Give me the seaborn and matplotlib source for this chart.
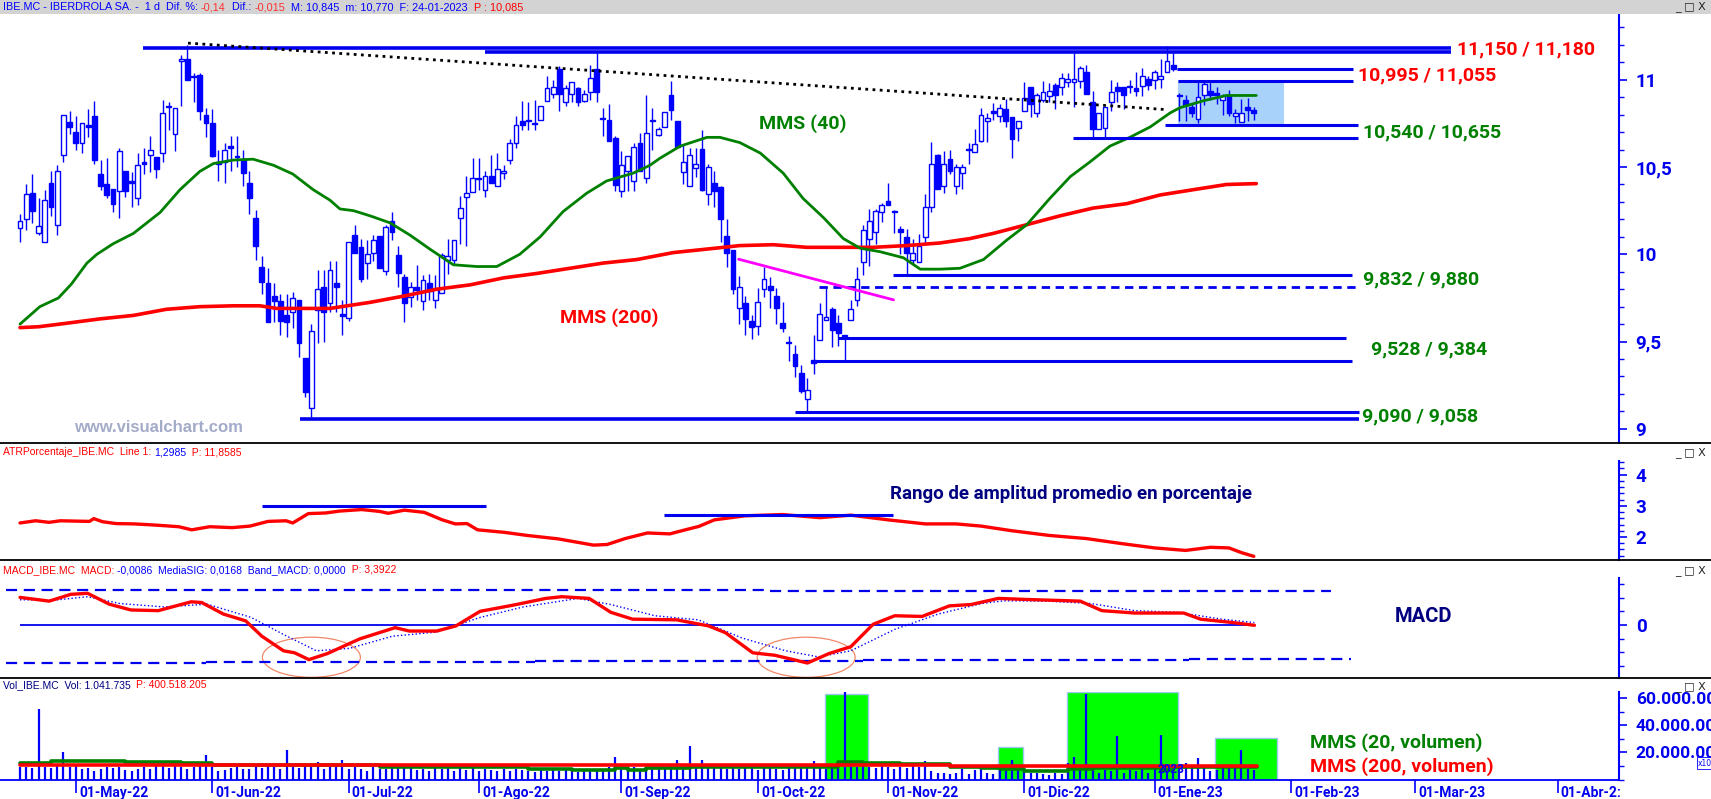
import matplotlib
matplotlib.use("Agg")
import numpy as np
import pandas as pd
import matplotlib.pyplot as plt
from matplotlib.patches import Rectangle, Ellipse
from matplotlib.ticker import MultipleLocator, FixedLocator, FuncFormatter
import seaborn as sns

# ---------------- data (IBE.MC, daily, 19-04-2022 .. 24-01-2023) ----------------
opens = [
    10.15, 10.20, 10.35, 10.12, 10.07, 10.41, 10.17, 10.57, 10.76, 10.70,
    10.64, 10.74, 10.79, 10.46, 10.40, 10.375, 10.36, 10.48, 10.42, 10.32,
    10.53, 10.57, 10.56, 10.58, 10.85, 10.69, 11.105, 11.12, 11.02, 11.03,
    10.80, 10.75, 10.53, 10.53, 10.62, 10.565, 10.545, 10.41, 10.21, 9.93,
    9.835, 9.76, 9.73, 9.65, 9.67, 9.74, 9.405, 9.12, 9.68, 9.81,
    9.72, 9.835, 9.66, 9.635, 10.11, 10.04, 9.95, 10.01, 10.105, 9.905,
    10.19, 9.995, 9.87, 9.755, 9.81, 9.73, 9.835, 9.74, 9.78, 9.97,
    9.965, 10.21, 10.33, 10.355, 10.43, 10.37, 10.45, 10.39, 10.465, 10.54,
    10.64, 10.765, 10.765, 10.75, 10.77, 10.88, 10.92, 11.06, 10.87, 10.92,
    10.95, 10.88, 10.93, 11.06, 10.78, 10.77, 10.665, 10.36, 10.48, 10.42,
    10.64, 10.44, 10.765, 10.685, 10.73, 10.91, 10.765, 10.47, 10.39, 10.495,
    10.605, 10.345, 10.41, 10.385, 10.105, 10.025, 9.695, 9.72, 9.62, 9.59,
    9.80, 9.82, 9.76, 9.605, 9.50, 9.43, 9.32, 9.17, 9.395, 9.51,
    9.625, 9.685, 9.605, 9.535, 9.625, 9.74, 9.955, 10.09, 10.125, 10.24,
    10.305, 10.25, 10.145, 10.10, 9.97, 9.955, 10.10, 10.27, 10.57, 10.39,
    10.545, 10.39, 10.465, 10.605, 10.585, 10.65, 10.765, 10.82, 10.79, 10.83,
    10.785, 10.725, 10.82, 10.96, 10.81, 10.885, 10.905, 10.97, 10.96, 10.985,
    10.99, 10.995, 11.045, 10.875, 10.72, 10.725, 10.87, 10.96, 10.96, 10.965,
    10.95, 10.965, 11.005, 11.0, 11.005, 11.045, 11.085, 10.915, 10.885, 10.845,
    10.775, 10.91, 10.935, 10.925, 10.885, 10.905, 10.795, 10.76, 10.845, 10.825,
]
highs = [
    10.23, 10.40, 10.46, 10.32, 10.37, 10.48, 10.51, 10.80, 10.82, 10.79,
    10.75, 10.83, 10.88, 10.54, 10.55, 10.375, 10.61, 10.48, 10.47, 10.58,
    10.61, 10.68, 10.56, 10.885, 10.875, 10.84, 11.14, 11.20, 11.04, 11.04,
    10.84, 10.83, 10.60, 10.64, 10.68, 10.68, 10.60, 10.475, 10.255, 9.99,
    9.92, 9.835, 9.77, 9.77, 9.785, 9.74, 9.405, 9.60, 9.91, 9.91,
    9.96, 9.96, 9.74, 10.07, 10.17, 10.09, 10.08, 10.11, 10.105, 10.17,
    10.24, 10.05, 9.89, 9.84, 9.94, 9.88, 9.89, 9.88, 10.01, 10.09,
    10.08, 10.335, 10.45, 10.55, 10.55, 10.48, 10.57, 10.58, 10.51, 10.66,
    10.79, 10.88, 10.87, 10.885, 10.85, 11.02, 11.0, 11.08, 10.97, 10.985,
    10.96, 10.94, 11.085, 11.155, 10.84, 10.86, 10.68, 10.59, 10.565, 10.64,
    10.695, 10.91, 10.84, 10.73, 10.815, 10.995, 10.765, 10.63, 10.61, 10.61,
    10.71, 10.515, 10.48, 10.39, 10.20, 10.025, 9.875, 9.76, 9.655, 9.805,
    9.93, 9.87, 9.805, 9.725, 9.53, 9.48, 9.365, 9.29, 9.54, 9.72,
    9.805, 9.70, 9.655, 9.535, 9.74, 9.925, 10.17, 10.26, 10.26, 10.295,
    10.41, 10.255, 10.16, 10.145, 10.085, 10.115, 10.345, 10.645, 10.575, 10.59,
    10.60, 10.52, 10.52, 10.64, 10.72, 10.84, 10.81, 10.865, 10.86, 10.89,
    10.785, 10.765, 10.99, 10.96, 10.925, 10.995, 10.98, 10.98, 11.04, 11.04,
    11.155, 11.08, 11.085, 10.935, 10.81, 10.845, 11.0, 10.99, 10.96, 11.0,
    11.045, 11.07, 11.02, 11.055, 11.12, 11.195, 11.155, 10.925, 10.91, 10.86,
    10.99, 10.99, 10.99, 10.96, 10.92, 10.94, 10.83, 10.89, 10.895, 10.845,
]
lows = [
    10.07, 10.14, 10.18, 10.11, 10.07, 10.22, 10.11, 10.53, 10.69, 10.60,
    10.58, 10.67, 10.52, 10.37, 10.32, 10.245, 10.21, 10.33, 10.27, 10.28,
    10.46, 10.47, 10.44, 10.53, 10.71, 10.59, 10.85, 11.0, 10.87, 10.77,
    10.67, 10.56, 10.42, 10.41, 10.48, 10.50, 10.39, 10.23, 9.97, 9.77,
    9.61, 9.61, 9.535, 9.525, 9.58, 9.41, 9.18, 9.07, 9.49, 9.50,
    9.67, 9.67, 9.54, 9.62, 10.01, 9.84, 9.86, 9.96, 9.92, 9.88,
    10.08, 9.81, 9.61, 9.70, 9.74, 9.68, 9.74, 9.69, 9.78, 9.89,
    9.945, 10.06, 10.045, 10.355, 10.37, 10.33, 10.41, 10.39, 10.43, 10.52,
    10.61, 10.71, 10.71, 10.71, 10.77, 10.88, 10.895, 10.82, 10.85, 10.87,
    10.85, 10.87, 10.885, 10.875, 10.68, 10.65, 10.36, 10.33, 10.365, 10.365,
    10.48, 10.41, 10.60, 10.675, 10.73, 10.77, 10.615, 10.40, 10.39, 10.445,
    10.365, 10.28, 10.27, 10.07, 9.93, 9.77, 9.60, 9.54, 9.515, 9.54,
    9.755, 9.69, 9.60, 9.555, 9.39, 9.295, 9.205, 9.105, 9.315, 9.51,
    9.625, 9.47, 9.475, 9.395, 9.625, 9.705, 9.88, 9.935, 10.06, 10.185,
    10.28, 10.12, 10.0, 9.88, 9.945, 9.955, 10.065, 10.245, 10.375, 10.35,
    10.46, 10.345, 10.375, 10.52, 10.585, 10.645, 10.645, 10.77, 10.76, 10.73,
    10.55, 10.65, 10.82, 10.785, 10.785, 10.87, 10.875, 10.835, 10.91, 10.96,
    10.845, 10.95, 10.92, 10.665, 10.72, 10.665, 10.82, 10.875, 10.83, 10.925,
    10.905, 10.905, 10.94, 10.945, 10.95, 11.045, 11.05, 10.765, 10.765, 10.785,
    10.75, 10.855, 10.885, 10.86, 10.80, 10.79, 10.755, 10.76, 10.765, 10.77,
]
closes = [
    10.19, 10.345, 10.25, 10.165, 10.31, 10.27, 10.48, 10.80, 10.73, 10.64,
    10.75, 10.73, 10.54, 10.39, 10.34, 10.29, 10.59, 10.36, 10.41, 10.51,
    10.515, 10.60, 10.49, 10.81, 10.845, 10.84, 11.12, 11.0, 11.015, 10.82,
    10.755, 10.565, 10.52, 10.60, 10.61, 10.56, 10.465, 10.32, 10.045, 9.84,
    9.615, 9.73, 9.62, 9.61, 9.75, 9.49, 9.21, 9.56, 9.80, 9.67,
    9.91, 9.815, 9.645, 10.07, 10.01, 9.86, 10.0, 10.08, 9.92, 10.155,
    10.13, 9.895, 9.72, 9.81, 9.795, 9.85, 9.79, 9.80, 9.995, 9.99,
    10.08, 10.265, 10.35, 10.44, 10.435, 10.45, 10.41, 10.49, 10.48, 10.64,
    10.74, 10.74, 10.77, 10.745, 10.85, 10.95, 10.96, 10.92, 10.95, 10.985,
    10.875, 10.92, 11.01, 10.93, 10.775, 10.65, 10.395, 10.51, 10.565, 10.615,
    10.48, 10.695, 10.77, 10.72, 10.815, 10.825, 10.615, 10.53, 10.57, 10.52,
    10.37, 10.50, 10.365, 10.20, 10.01, 9.80, 9.81, 9.63, 9.585, 9.725,
    9.86, 9.795, 9.69, 9.575, 9.49, 9.36, 9.215, 9.225, 9.38, 9.66,
    9.64, 9.565, 9.55, 9.53, 9.685, 9.86, 10.14, 10.19, 10.25, 10.285,
    10.28, 10.24, 10.13, 10.01, 10.005, 10.05, 10.27, 10.52, 10.375, 10.52,
    10.48, 10.50, 10.50, 10.60, 10.63, 10.80, 10.78, 10.81, 10.84, 10.765,
    10.66, 10.765, 10.895, 10.86, 10.91, 10.93, 10.935, 10.91, 11.01, 11.005,
    11.005, 11.07, 10.92, 10.72, 10.81, 10.845, 10.93, 10.935, 10.91, 10.96,
    10.935, 11.02, 10.97, 11.045, 11.02, 11.11, 11.06, 10.905, 10.855, 10.81,
    10.90, 10.975, 10.91, 10.91, 10.905, 10.81, 10.81, 10.81, 10.825, 10.81,
]
# daily volume, millions of shares
volumes = [
    9.5, 9.0, 8.5, 52.0, 9.5, 8.8, 10.0, 20.7, 9.2, 10.0,
    7.5, 8.5, 6.5, 8.0, 9.5, 8.2, 9.0, 7.0, 6.0, 8.0,
    9.0, 7.5, 11.0, 13.6, 8.5, 12.0, 9.0, 8.0, 9.5, 10.5,
    18.5, 9.0, 6.5, 7.0, 8.5, 9.0, 7.5, 8.0, 9.5, 8.5,
    10.0, 9.0, 8.0, 21.5, 9.0, 8.5, 10.0, 9.5, 12.8, 8.0,
    9.0, 10.0, 14.6, 7.5, 9.0, 8.0, 6.5, 9.5, 8.0, 7.5,
    9.0, 10.5, 8.5, 11.0, 7.0, 8.0, 6.5, 9.0, 7.5, 8.5,
    6.0, 8.5, 7.0, 9.5, 6.5, 8.0, 7.0, 6.0, 7.5, 6.5,
    8.0, 7.0, 6.5, 5.5, 7.0, 6.0, 8.0, 6.5, 7.5, 6.0,
    5.5, 7.0, 6.5, 8.0, 7.5, 9.0, 17.0, 8.5, 7.0, 9.5,
    8.0, 7.0, 8.5, 9.0, 7.5, 10.0, 14.6, 9.0, 25.0, 9.5,
    14.6, 9.0, 8.5, 10.0, 8.0, 9.5, 7.5, 8.5, 9.0, 7.0,
    8.5, 9.5, 8.0, 7.0, 8.5, 9.0, 9.5, 10.5, 13.6, 9.0,
    8.0, 9.5, 10.0, 65.0, 10.0, 9.0, 11.0, 9.5, 8.5, 10.0,
    9.0, 8.0, 9.5, 8.5, 10.0, 9.0, 14.0, 6.0, 4.5, 5.0,
    4.0, 4.5, 7.5, 4.0, 7.0, 9.0, 5.0, 4.0, 10.0, 6.0,
    14.6, 8.0, 6.0, 4.5, 5.0, 4.0, 3.5, 5.0, 4.0, 12.0,
    17.0, 9.0, 63.0, 10.0, 5.0, 7.0, 6.0, 32.0, 5.0, 7.0,
    6.0, 8.0, 5.0, 9.0, 33.0, 8.0, 9.0, 10.0, 12.0, 9.0,
    16.0, 10.0, 6.0, 7.0, 9.0, 10.0, 9.0, 22.0, 8.0, 7.0,
]

# moving averages on price (x = trading-day index)
mms40_x = [0, 3.2, 6.2, 8.3, 10.8, 12.4, 15, 18.3, 22.6, 25.8, 29, 31.2, 34.4, 37.6, 40.9, 44, 47.3, 50,
           51.6, 53.8, 56.5, 59.7, 62.9, 66.1, 69.9, 73.7, 76.9, 80.6, 83.9, 87.6, 91.4, 94.6, 98.9, 101.6,
           103.2, 106.5, 110.8, 112.9, 116.1, 119.4, 123.1, 126.3, 129.6, 132.8, 135.5, 138.7, 142.5, 145.2,
           148.4, 151.6, 155.4, 159.1, 162.4, 166.1, 169.4, 172.6, 175.8, 179, 182.3, 185.5, 187.1, 190.9,
           194.6, 199.4]
mms40_y = [9.60, 9.70, 9.75, 9.83, 9.95, 10.0, 10.06, 10.12, 10.24, 10.37, 10.475, 10.52, 10.54, 10.545,
           10.51, 10.46, 10.37, 10.31, 10.26, 10.25, 10.22, 10.18, 10.11, 10.03, 9.94, 9.93, 9.93, 10.0,
           10.10, 10.245, 10.35, 10.42, 10.465, 10.51, 10.55, 10.62, 10.67, 10.67, 10.64, 10.58, 10.465,
           10.32, 10.21, 10.09, 10.035, 10.015, 9.98, 9.915, 9.915, 9.92, 9.97, 10.08, 10.17, 10.32,
           10.445, 10.53, 10.62, 10.67, 10.73, 10.81, 10.84, 10.88, 10.91, 10.91]
mms200_x = [0, 3, 7.5, 12.9, 18.3, 23.6, 29, 34.4, 38.7, 41.4, 50, 56.5, 61.8, 67.2, 72.6, 78, 83.3,
            88.7, 94.1, 99.5, 105.4, 110.8, 116.1, 121.5, 126.9, 132.3, 137.6, 143, 148.4, 153.2, 157,
            162.4, 167.7, 173.1, 178.5, 183.9, 189.2, 194.6, 199.4]
mms200_y = [9.58, 9.585, 9.605, 9.63, 9.65, 9.685, 9.70, 9.705, 9.705, 9.69, 9.69, 9.725, 9.76, 9.80,
            9.825, 9.865, 9.89, 9.92, 9.95, 9.97, 10.01, 10.03, 10.05, 10.055, 10.04, 10.04, 10.04,
            10.05, 10.065, 10.09, 10.12, 10.17, 10.22, 10.265, 10.29, 10.34, 10.37, 10.40, 10.405]

# support / resistance levels drawn on the price panel
level_y = [11.18, 11.16, 11.06, 10.995, 10.74, 10.665, 9.883, 9.523, 9.39, 9.099, 9.055]
level_x0 = [19.8, 75, 186.6, 186.8, 184.7, 169.9, 140.8, 132, 127.7, 125, 45.2]
level_x1 = [230.8, 230.8, 215, 215, 215.8, 215.8, 214.8, 213.9, 214.8, 215.9, 216]
level_dashed = (128.9, 215.5, 9.81)
trend_x = [27.1, 184.5]
trend_y = [11.21, 10.83]
magenta_x = [115.9, 140.9]
magenta_y = [9.972, 9.739]
box_x = (186.8, 203.9)
box_y = (10.748, 10.996)

# ATR in percent
atr_x = [0, 2.5, 4.7, 6.5, 11.2, 11.9, 13.3, 15.5, 18.4, 22, 25.6, 27.7, 30.6, 34.2, 37.1, 40, 42.9, 44,
         46.5, 49.3, 51.5, 55.1, 58, 59.4, 62, 65.2, 68.1, 70.2, 72.1, 73.8, 78.1, 81.8, 86.8, 92.5, 94.7,
         97.6, 101.2, 104.8, 107.7, 109.5, 112, 117, 123, 129, 134, 140, 146, 151, 155, 160, 166, 172,
         178, 183, 188, 192, 195, 197, 199]
atr_y = [2.45, 2.52, 2.47, 2.52, 2.50, 2.59, 2.49, 2.43, 2.42, 2.38, 2.33, 2.23, 2.33, 2.30, 2.35, 2.50,
         2.52, 2.45, 2.75, 2.77, 2.83, 2.88, 2.82, 2.76, 2.86, 2.79, 2.55, 2.42, 2.43, 2.23, 2.15, 2.05,
         1.94, 1.74, 1.76, 1.95, 2.13, 2.10, 2.25, 2.34, 2.55, 2.68, 2.72, 2.62, 2.70, 2.55, 2.42, 2.42,
         2.35, 2.20, 2.05, 1.95, 1.78, 1.65, 1.57, 1.67, 1.65, 1.50, 1.38]
atr_seg = [(39.1, 75.1, 3.0), (103.8, 140.8, 2.72)]

# MACD and signal
macd_x = [0, 4.7, 8.2, 10.9, 14.4, 17.9, 22.3, 27.6, 29.3, 32.8, 36.4, 39, 42.5, 44.3, 46.6, 49.6, 54.8,
          60.5, 62.8, 67.2, 70.3, 74.2, 79.5, 84.8, 87.4, 91.8, 95.3, 98.8, 105.9, 111.1, 113.8, 118.2,
          121.7, 125.2, 127, 130.5, 134, 137.6, 141.1, 145.5, 149.9, 153.4, 157.8, 162.2, 171, 174.5,
          179.8, 187.7, 190.4, 195.6, 199.1]
macd_y = [0.081, 0.070, 0.090, 0.093, 0.061, 0.044, 0.042, 0.068, 0.066, 0.032, 0.012, -0.033, -0.076,
          -0.082, -0.102, -0.084, -0.041, -0.008, -0.018, -0.018, -0.003, 0.040, 0.058, 0.078, 0.083,
          0.078, 0.037, 0.017, 0.015, -0.003, -0.023, -0.082, -0.089, -0.104, -0.112, -0.084, -0.064,
          0.002, 0.027, 0.025, 0.056, 0.060, 0.078, 0.075, 0.070, 0.042, 0.035, 0.035, 0.017, 0.007,
          -0.001]
sig_x = [0, 5.6, 10.9, 16.1, 23.2, 30.2, 37.3, 42.5, 47.8, 53.1, 60.1, 67.2, 74.2, 81.2, 90, 95.3, 102.4,
         109.4, 116.4, 123.5, 128.8, 134, 141.1, 148.1, 155.1, 158.7, 165.7, 172.7, 179.8, 186.8, 193.8,
         199.1]
sig_y = [0.074, 0.073, 0.083, 0.063, 0.053, 0.061, 0.022, -0.028, -0.076, -0.069, -0.033, -0.021, 0.022,
         0.053, 0.078, 0.060, 0.027, 0.015, -0.038, -0.076, -0.094, -0.076, -0.013, 0.032, 0.063, 0.071,
         0.070, 0.063, 0.042, 0.037, 0.017, 0.007]
band_up = [(-2.3, 121, 0.103), (121, 211.5, 0.100)]
band_dn = [(-2.3, 30, -0.111), (30, 83, -0.109), (83, 136, -0.106), (136, 188.6, -0.103), (188.6, 214.7, -0.100)]
circles = [(47, -0.095), (126.8, -0.095)]

# volume moving averages (step lines) and highlighted zones
vol20_x = [0, 5, 17, 26, 31, 52, 58, 61, 82, 89, 96, 98, 101, 108, 112, 132, 136, 142, 150, 155, 158, 162,
           169, 173, 184, 186, 199.5]
vol20_y = [12.3, 14.0, 12.8, 12.1, 10.5, 10.4, 9.6, 9.1, 7.9, 7.4, 8.4, 7.4, 8.4, 9.6, 9.1, 12.8, 12.1,
           11.5, 9.0, 8.3, 7.5, 6.5, 7.8, 8.3, 7.0, 9.0, 9.0]
vol200_x = [0, 65, 150, 199.5]
vol200_y = [10.9, 10.4, 10.0, 10.0]
vzone_x0 = [129.9, 157.7, 168.8, 192.8]
vzone_x1 = [136.8, 161.8, 186.8, 202.8]
vzone_top = [63.0, 24.3, 64.8, 30.5]

month_labels = ['01-May-22', '01-Jun-22', '01-Jul-22', '01-Ago-22', '01-Sep-22', '01-Oct-22',
                '01-Nov-22', '01-Dic-22', '01-Ene-23', '01-Feb-23', '01-Mar-23', '01-Abr-2:']

# trading calendar -> tick positions
days = pd.bdate_range('2022-04-19', '2023-04-28')
days = days.drop(pd.to_datetime(['2022-12-26', '2023-04-07', '2023-04-10']))
month_key = days.to_period('M')
first_idx = [int(np.argmax(month_key == p)) for p in pd.period_range('2022-05', '2023-04', freq='M')]

# ---------------- drawing ----------------
sns.set_style("white")
plt.rcParams['font.family'] = ['DejaVu Sans']
BOLDF = ['Roboto', 'DejaVu Sans']
SMALL = ['Liberation Sans', 'DejaVu Sans']
BLUE = '#0000ff'
LBLUE = '#0000ee'
GREEN = '#008000'
RED = '#ff0000'
NAVY = '#000080'

W, H = 1711, 799
XR = 1619
fig = plt.figure(figsize=(W / 100, H / 100), dpi=100)
fig.patch.set_facecolor('white')


def px(x, y):
    return x / W, 1 - y / H


def panel(top, bottom):
    ax = fig.add_axes([0, 1 - bottom / H, XR / W, (bottom - top) / H])
    ax.set_xlim(-20 / 6.2, (XR - 20) / 6.2)
    for s in ['left', 'top', 'bottom']:
        ax.spines[s].set_visible(False)
    ax.spines['right'].set_color(BLUE)
    ax.spines['right'].set_linewidth(1.5)
    ax.yaxis.tick_right()
    ax.tick_params(axis='x', bottom=False, labelbottom=False)
    ax.tick_params(axis='y', which='both', direction='out', colors=BLUE, labelcolor=LBLUE,
                   labelsize=13.5, pad=6)
    ax.tick_params(axis='y', which='major', length=6, width=1.2)
    ax.tick_params(axis='y', which='minor', length=3.5, width=1)
    return ax


def bold_labels(ax):
    for t in ax.get_yticklabels():
        t.set_fontweight('bold')
        t.set_family(BOLDF)


comma = FuncFormatter(lambda v, p: ('%g' % v).replace('.', ','))

# ---- price panel
ax = panel(15, 443)
ax.set_ylim(8.919, 11.371)
idx = np.arange(len(closes))
o = np.array(opens); c = np.array(closes)
ax.vlines(idx, lows, highs, color=BLUE, lw=1, zorder=3)
body_lo = np.minimum(o, c)
body_h = np.maximum(np.abs(c - o), 0.006)
face = ['white' if cc >= oo else BLUE for oo, cc in zip(o, c)]
ax.bar(idx, body_h, bottom=body_lo, width=0.75, color=face, edgecolor=BLUE, linewidth=1, zorder=4)
ax.add_patch(Rectangle((box_x[0], box_y[0]), box_x[1] - box_x[0], box_y[1] - box_y[0],
                       facecolor='#a9d2fb', edgecolor='none', zorder=1))
sns.lineplot(x=mms200_x, y=mms200_y, ax=ax, color=RED, lw=2.6, zorder=5)
sns.lineplot(x=mms40_x, y=mms40_y, ax=ax, color=GREEN, lw=2, zorder=5)
for x0, x1, yv in zip(level_x0, level_x1, level_y):
    ax.hlines(yv, x0, x1, color=LBLUE, lw=2.6 if yv > 11.1 or yv < 9.06 else 2.2, zorder=6)
ax.hlines(level_dashed[2], level_dashed[0], level_dashed[1], color=LBLUE, lw=2, linestyles=(0, (3, 2)), zorder=6)
ax.plot(trend_x, trend_y, color='black', lw=2, linestyle=(0, (1, 1.6)), zorder=6)
ax.plot(magenta_x, magenta_y, color='#ff00ff', lw=2, zorder=6)
ax.yaxis.set_major_locator(FixedLocator([9, 9.5, 10, 10.5, 11]))
ax.yaxis.set_minor_locator(MultipleLocator(0.1))
ax.yaxis.set_major_formatter(comma)
bold_labels(ax)

# ---- ATR panel
ax2 = panel(461, 560)
ax2.set_ylim(1.263, 4.436)
sns.lineplot(x=atr_x, y=atr_y, ax=ax2, color=RED, lw=2.4)
for x0, x1, yv in atr_seg:
    ax2.hlines(yv, x0, x1, color=LBLUE, lw=2.2)
ax2.yaxis.set_major_locator(FixedLocator([2, 3, 4]))
ax2.yaxis.set_minor_locator(MultipleLocator(0.2))
ax2.yaxis.set_major_formatter(comma)
bold_labels(ax2)

# ---- MACD panel
ax3 = panel(578, 678)
ax3.set_ylim(-0.156, 0.138)
ax3.hlines(0, 0, 199, color=LBLUE, lw=1.3)
for x0, x1, yv in band_up + band_dn:
    ax3.hlines(yv, x0, x1, color=LBLUE, lw=1.6, linestyles=(0, (5, 3)))
sns.lineplot(x=sig_x, y=sig_y, ax=ax3, color=BLUE, lw=1, linestyle=':')
sns.lineplot(x=macd_x, y=macd_y, ax=ax3, color=RED, lw=2.4)
for cx, cy in circles:
    ax3.add_patch(Ellipse((cx, cy), 15.8, 0.118, fill=False, edgecolor='#f08868', lw=0.9))
ax3.yaxis.set_major_locator(FixedLocator([0]))
ax3.yaxis.set_minor_locator(MultipleLocator(0.04))
ax3.yaxis.set_major_formatter(FuncFormatter(lambda v, p: '0'))
bold_labels(ax3)

# ---- volume panel
ax4 = panel(692, 779.5)
ax4.set_ylim(0, 64.8)
ax4.spines['bottom'].set_visible(True)
ax4.spines['bottom'].set_color(BLUE)
ax4.spines['bottom'].set_linewidth(1.3)
for x0, x1, top in zip(vzone_x0, vzone_x1, vzone_top):
    ax4.add_patch(Rectangle((x0, 0), x1 - x0, top, facecolor='#00ff00', edgecolor='#9ec6f0', lw=1, zorder=1))
ax4.vlines(idx, 0, volumes, color=BLUE, lw=1.6, zorder=3)
ax4.step(vol20_x, vol20_y, where='post', color=GREEN, lw=2.6, zorder=4)
ax4.step(vol200_x, vol200_y, where='post', color=RED, lw=2.6, zorder=5)
ax4.yaxis.set_major_locator(FixedLocator([20, 40, 60]))
ax4.yaxis.set_minor_locator(MultipleLocator(10))
ax4.yaxis.set_major_formatter(FuncFormatter(lambda v, p: f"{int(round(v * 1e6)):,}".replace(',', '.')))
ax4.tick_params(axis='y', labelsize=12.5)
bold_labels(ax4)
ax4.set_xticks(first_idx)
ax4.tick_params(axis='x', bottom=True, direction='out', length=9, width=1.2, colors=BLUE, labelbottom=False)
for p, lab in zip(first_idx, month_labels):
    ax4.text(p + 0.5, -0.155, lab, transform=ax4.get_xaxis_transform(), ha='left', va='center',
             color=LBLUE, fontsize=10, fontweight='bold', family=BOLDF, clip_on=False)
ax4.text(first_idx[8] + 0.5, 0.11, '2023', transform=ax4.get_xaxis_transform(), ha='left', va='center',
         color=LBLUE, fontsize=8.5, fontweight='bold', family=BOLDF, zorder=6)

# ---- frame: title bar, separators, window buttons
fig.patches.append(Rectangle((0, 1 - 14 / H), 1, 14 / H, transform=fig.transFigure,
                             facecolor='#d3d3d3', edgecolor='none', zorder=0))
for ysep in [443, 560, 678]:
    fig.add_artist(plt.Line2D([0, 1], [1 - ysep / H] * 2, color='black', lw=1.3))
for yb in [7, 453, 571, 687]:
    fig.text(*px(1675, yb), '_ □ X', fontsize=8, color='#222222', va='center', ha='left')
fig.text(*px(1698, 763), 'x10', fontsize=5.5, color=BLUE, va='center', ha='left',
         bbox=dict(boxstyle='square,pad=0.15', fc='white', ec=BLUE, lw=0.6), zorder=10)

renderer = fig.canvas.get_renderer()


def color_text(x, y, parts, size=7.5):
    for s, col in parts:
        t = fig.text(x / W, 1 - y / H, s, color=col, fontsize=size, family=SMALL, va='center', ha='left')
        x = t.get_window_extent(renderer).x1


color_text(3, 7, [('IBE.MC - IBERDROLA SA. -  1 d  Dif. %: ', BLUE), ('-0,14', '#ff3030'),
                  ('  Dif.: ', BLUE), ('-0,015', '#ff3030'),
                  ('  M: 10,845  m: 10,770  F: 24-01-2023  ', BLUE), ('P : 10,085', RED)], size=7.8)
color_text(3, 452, [('ATRPorcentaje_IBE.MC  Line 1: ', RED), ('1,2985', BLUE), ('  P: 11,8585', RED)])
color_text(3, 570, [('MACD_IBE.MC  MACD: ', RED), ('-0,0086  MediaSIG: 0,0168  Band_MACD: 0,0000', BLUE),
                    ('  P: 3,3922', RED)])
color_text(3, 685, [('Vol_IBE.MC  Vol: 1.041.735  ', NAVY), ('P: 400.518.205', RED)])

# ---- annotations
lab = dict(fontsize=14, fontweight='bold', family=BOLDF, va='center', ha='left')
fig.text(*px(1457, 49), '11,150 / 11,180', color=RED, **lab)
fig.text(*px(1358, 75), '10,995 / 11,055', color=RED, **lab)
fig.text(*px(1363, 132), '10,540 / 10,655', color=GREEN, **lab)
fig.text(*px(1363, 279), '9,832 / 9,880', color=GREEN, **lab)
fig.text(*px(1371, 349), '9,528 / 9,384', color=GREEN, **lab)
fig.text(*px(1362, 416), '9,090 / 9,058', color=GREEN, **lab)
fig.text(*px(759, 124), 'MMS (40)', color=GREEN, **lab)
fig.text(*px(560, 318), 'MMS (200)', color=RED, **lab)
fig.text(*px(1310, 743), 'MMS (20, volumen)', color=GREEN, **lab)
fig.text(*px(1310, 767), 'MMS (200, volumen)', color=RED, **lab)
fig.text(*px(890, 494), 'Rango de amplitud promedio en porcentaje', color=NAVY, fontsize=13.5,
         fontweight='bold', family=BOLDF, va='center', ha='left')
fig.text(*px(1395, 617), 'MACD', color=NAVY, fontsize=14.5, fontweight='bold', family=BOLDF,
         va='center', ha='left')
fig.text(*px(74, 428), 'www.visualchart.com', color='#a3abc9', fontsize=12, fontweight='bold',
         family=SMALL, va='center', ha='left')

fig.savefig('out.png', dpi=100)
